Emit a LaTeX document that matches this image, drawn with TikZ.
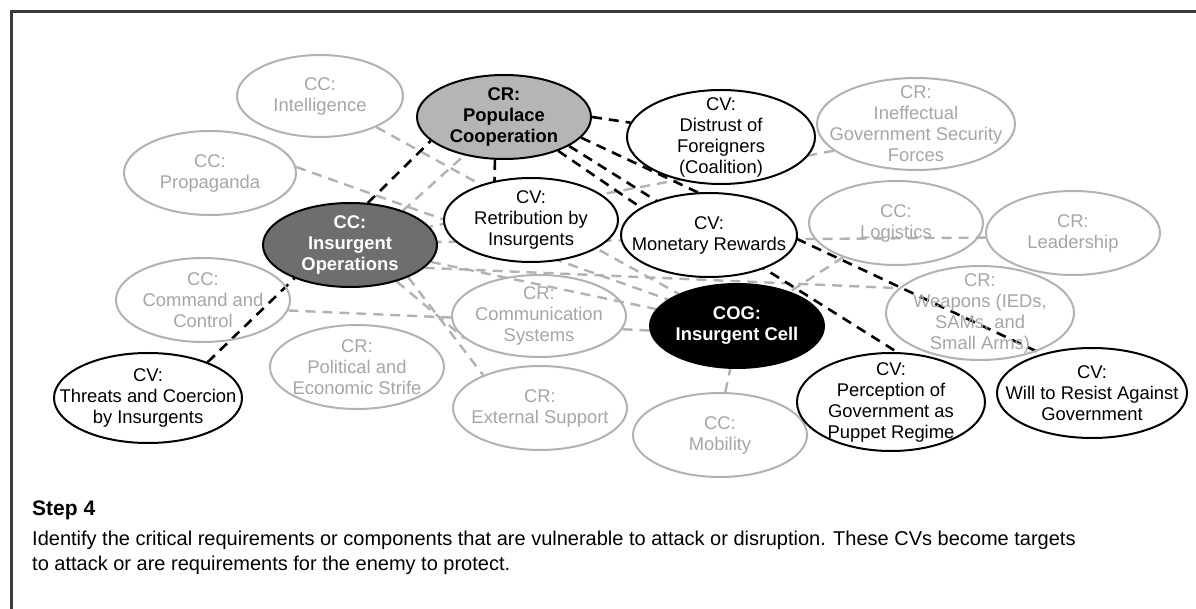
\documentclass[tikz,border=0pt]{standalone}
\usepackage{fontspec}
\setmainfont{Liberation Sans}
\usetikzlibrary{shapes.geometric}
\pgfdeclarelayer{bg}
\pgfsetlayers{bg,main}
\definecolor{lgray}{HTML}{B2B2B2}
\definecolor{ltext}{HTML}{A6A6A6}
\definecolor{opsfill}{HTML}{6E6E6E}
\definecolor{popfill}{HTML}{B5B5B5}
\definecolor{frame}{HTML}{3A3A3A}
\tikzset{
  oval/.style={ellipse, inner sep=0pt, line width=2pt},
  faint/.style={oval, draw=lgray},
  vuln/.style={oval, draw=black, fill=white},
  lbl/.style={align=center, font=\fontsize{18.4}{21}\selectfont},
  flbl/.style={lbl, text=ltext},
  blbl/.style={lbl, font=\fontsize{18.4}{21}\selectfont\bfseries},
  gline/.style={draw=lgray, line width=2.4pt, dash pattern=on 10pt off 7pt},
  kline/.style={draw=black, line width=2.6pt, dash pattern=on 10pt off 7pt},
  captxt/.style={anchor=base west, inner sep=0pt, font=\fontsize{20}{24}\selectfont},
}
\newcommand{\ov}[6]{% style, name, x, y, rx, ry
  \node[#1, minimum width=#5pt*2, minimum height=#6pt*2] (#2) at (#3,#4) {};}
\begin{document}
\begin{tikzpicture}[x=1pt,y=-1pt]
\useasboundingbox (0,0) rectangle (1196,609);
\begin{pgfonlayer}{bg}
\fill[white] (0,0) rectangle (1196,609);
\end{pgfonlayer}
% frame (left and top edges)
\draw[frame, line width=3pt] (11.5,620) -- (11.5,11.5) -- (1210,11.5);

% ovals
\ov{faint}{intel}{320}{96}{83}{41}
\ov{faint}{prop}{210}{173}{86}{42}
\ov{oval, draw=black, fill=opsfill}{iops}{350}{245}{87}{42}
\ov{faint}{ctwo}{203}{300}{87}{42}
\ov{vuln}{thr}{148}{398}{94}{45}
\ov{faint}{pol}{357}{367}{87}{42}
\ov{oval, draw=black, fill=popfill}{pop}{504}{117}{87}{42}
\ov{vuln}{dis}{721}{137}{94}{47}
\ov{faint}{ineff}{916}{124}{99}{46}
\ov{vuln}{ret}{531}{220}{87}{42}
\ov{vuln}{mon}{709}{235}{88}{42}
\ov{faint}{logi}{896}{223}{87}{42}
\ov{faint}{lead}{1073}{233}{87}{42}
\ov{faint}{weap}{980}{313}{94}{47}
\ov{faint}{comm}{539}{316}{87}{41}
\ov{oval, draw=black, fill=black}{cog}{737}{326}{87}{42}
\ov{faint}{ext}{540}{408}{87}{42}
\ov{faint}{mob}{720}{435}{87}{42}
\ov{vuln}{perc}{891}{402}{94}{49}
\ov{vuln}{will}{1092}{393}{95}{45}

% labels
\node[flbl] at (intel) {CC:\\Intelligence};
\node[flbl] at (prop) {CC:\\Propaganda};
\node[blbl, text=white] at (iops) {CC:\\Insurgent\\Operations};
\node[flbl] at (ctwo) {CC:\\Command and\\Control};
\node[lbl] at (thr) {CV:\\Threats and Coercion\\by Insurgents};
\node[flbl] at (pol) {CR:\\Political and\\Economic Strife};
\node[blbl] at (pop) {CR:\\Populace\\Cooperation};
\node[lbl] at (dis) {CV:\\Distrust of\\Foreigners\\(Coalition)};
\node[flbl] at (ineff) {CR:\\Ineffectual\\Government Security\\Forces};
\node[lbl] at (ret) {CV:\\Retribution by\\Insurgents};
\node[lbl] at (mon) {CV:\\Monetary Rewards};
\node[flbl] at (logi) {CC:\\Logistics};
\node[flbl] at (lead) {CR:\\Leadership};
\node[flbl] at (weap) {CR:\\Weapons (IEDs,\\SAMs, and\\Small Arms)};
\node[flbl] at (comm) {CR:\\Communication\\Systems};
\node[blbl, text=white] at (cog) {COG:\\Insurgent Cell};
\node[flbl] at (ext) {CR:\\External Support};
\node[flbl] at (mob) {CC:\\Mobility};
\node[lbl] at (perc) {CV:\\Perception of\\Government as\\Puppet Regime};
\node[lbl] at (will) {CV:\\Will to Resist Against\\Government};

% connectors
\begin{pgfonlayer}{bg}
% capabilities and requirements
\draw[gline] (intel) -- (cog);
\draw[gline] (prop.4) -- (cog.159);
\draw[gline] (iops) -- (cog);
\draw[gline] (iops.33) -- (pop.224);
\draw[gline] (iops.-29) -- (ext.150);
\draw[gline] (iops.-38) -- (comm.197);
\draw[gline] (iops.-17) -- (weap.163);
\draw[gline] (ctwo.-7) -- (comm.181);
\draw[gline] (comm.-9) -- (cog.183);
\draw[gline] (ineff.198) -- (iops.13);
\draw[gline] (lead.183) -- (iops.2);
\draw[gline] (logi) -- (cog);
\draw[gline] (mob.83) -- (cog.-99);
% vulnerabilities
\draw[kline] (thr.31) -- (iops.211);
\draw[kline] (iops.67) -- (pop.198);
\draw[kline] (pop.-102) -- (ret.133);
\draw[kline] (pop.0) -- (dis.171);
\draw[kline] (pop.-32) -- (mon.158);
\draw[kline] (pop.-15) -- (will.142);
\draw[kline] (pop.-24) -- (perc.83);
\end{pgfonlayer}

% caption
\node[anchor=base west, inner sep=0pt, font=\fontsize{21}{24}\selectfont\bfseries] (step) at (32,515) {Step 4};
\node[captxt] (descA) at (32,545) {Identify the critical requirements or components that are vulnerable to attack or disruption. These CVs become targets};
\node[captxt] (descB) at (32,570) {to attack or are requirements for the enemy to protect.};
\end{tikzpicture}
\end{document}
